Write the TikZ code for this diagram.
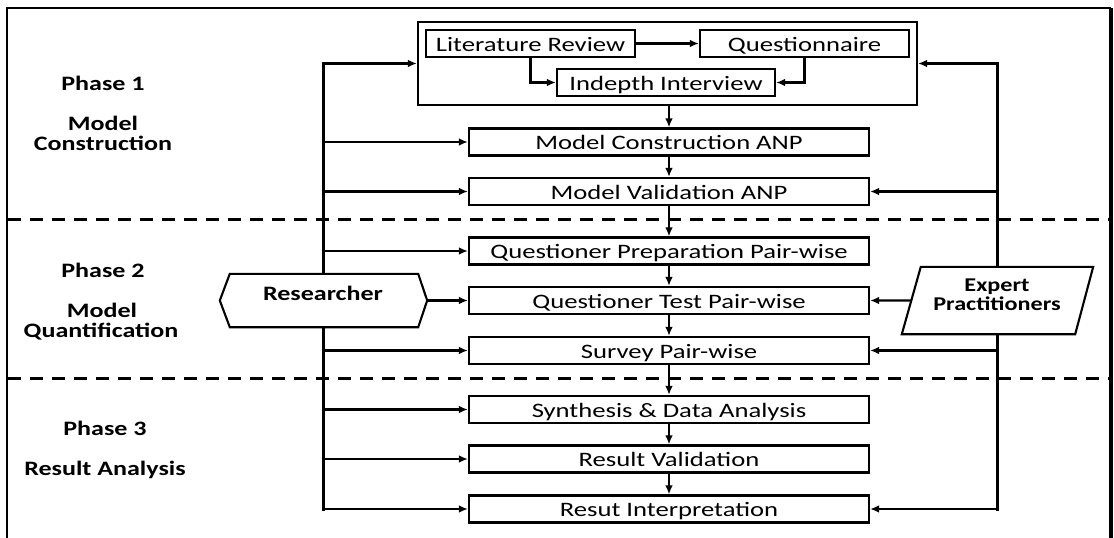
\documentclass[tikz,border=0pt]{standalone}
\usepackage{fontspec}
\setmainfont{Carlito}
\usepackage{graphicx}
\usetikzlibrary{arrows.meta,calc}
\newcommand{\sx}[1]{\scalebox{1.3}[1]{#1}}
\newcommand{\bx}[1]{\scalebox{1.27}[1]{\bfseries #1}}
\newcommand{\ex}[1]{\scalebox{1.24}[1]{\bfseries #1}}
\begin{document}
\begin{tikzpicture}[x=1pt,y=-1pt,
  every node/.style={inner sep=0pt},
  txt/.style={font=\fontsize{20.5}{20}\selectfont, text height=15.5pt, text depth=0pt},
  sbox/.style={txt, draw, line width=2.1pt, minimum height=27pt},
  pbox/.style={sbox, minimum width=400pt},
  lbl/.style={font=\fontsize{20.5}{20}\selectfont, anchor=base},
  elbl/.style={font=\fontsize{19.5}{18}\selectfont, anchor=base},
  arr/.style={line width=2.1pt, -{Latex[length=9pt,width=7.5pt]}},
  bus/.style={line width=3pt, line cap=rect},
  sep/.style={line width=3pt, dash pattern=on 13pt off 9pt},
  shapefill/.style={draw, fill=white, line width=2.1pt, line join=miter}
]
\useasboundingbox (0,0) rectangle (1114,538);
% frame
\draw[line width=2.6pt] (7,538) -- (7,8) -- (1111,8);
\draw[line width=4pt] (1111,8) -- (1111,538);
% phase separators
\draw[sep] (8,219) -- (1110,219);
\draw[sep] (8,378) -- (1110,378);

% top group
\node[draw, line width=2.1pt, minimum width=499pt, minimum height=83pt] (grp) at (667.5,63.5) {};
\node[sbox, minimum width=209pt] (lr) at (530.5,43.5) {\sx{Literature Review}};
\node[sbox, minimum width=209pt] (q) at (804.5,43.5) {\sx{Questionnaire}};
\node[sbox, minimum width=218pt] (ii) at (666,82.5) {\sx{Indepth Interview}};

% process boxes
\node[pbox] (mc) at (669,142) {\sx{Model Construction ANP}};
\node[pbox] (mv) at (669,191.5) {\sx{Model Validation ANP}};
\node[pbox] (qp) at (669,251) {\sx{Questioner Preparation Pair-wise}};
\node[pbox] (qt) at (669,300.5) {\sx{Questioner Test Pair-wise}};
\node[pbox] (sp) at (669,350.5) {\sx{Survey Pair-wise}};
\node[pbox] (sd) at (669,409.5) {\sx{Synthesis \& Data Analysis}};
\node[pbox] (rv) at (669,459) {\sx{Result Validation}};
\node[pbox] (ri) at (669,509) {\sx{Resut Interpretation}};

% actor holders
\node[minimum width=207pt, minimum height=53pt] (res) at (323.5,300.5) {};
\node[minimum width=191pt, minimum height=67pt] (ep) at (997.5,300.5) {};

% buses
\coordinate (lbT) at (323,63.5);
\coordinate (lbB) at (323,509);
\coordinate (rbT) at (997,63.5);
\coordinate (rbB) at (997,509);
\draw[bus] (lbT) -- (lbB);
\draw[bus] (rbT) -- (rbB);

% arrows inside group
\draw[arr] (lr.east) -- (q.west);
\draw[arr] (lr.south) |- (ii.west);
\draw[arr] (q.south) |- (ii.east);

% chain
\draw[arr] (grp.south -| mc.north) -- (mc.north);
\foreach \a/\b in {mc/mv,mv/qp,qp/qt,qt/sp,sp/sd,sd/rv,rv/ri}
  \draw[arr] (\a.south) -- (\b.north);

% left bus arrows
\draw[arr] (lbT) -- (lbT -| grp.west);
\foreach \n in {mc,mv,qp,sp,sd,rv}
  \draw[arr] (\n.west -| lbT) -- (\n.west);
\draw[arr] (lbB) -- (ri.west);

% right bus arrows
\draw[arr] (rbT) -- (rbT -| grp.east);
\foreach \n in {mv,sp}
  \draw[arr] (\n.east -| rbT) -- (\n.east);
\draw[arr] (rbB) -- (ri.east);

% actor shapes
\draw[shapefill] (res.west) -- ([xshift=10pt]res.north west) -- ([xshift=-9pt]res.north east)
  -- (res.east) -- ([xshift=-9pt]res.south east) -- ([xshift=10pt]res.south west) -- cycle;
\draw[shapefill] (ep.south west) -- ([xshift=19pt]ep.north west) -- (ep.north east)
  -- ([xshift=-18pt]ep.south east) -- cycle;
\draw[arr] (res.east) -- (qt.west);
\draw[arr] ($(ep.south west)!0.5!([xshift=19pt]ep.north west)$) -- (qt.east);

% labels
\node[lbl] (tres) at (323,300) {\bx{Researcher}};
\node[elbl] (texp1) at (997,291.7) {\ex{Expert}};
\node[elbl] (texp2) at (997,310) {\ex{Practitioners}};
\node[lbl] (p1) at (103,90.7) {\bx{Phase 1}};
\node[lbl] (p1a) at (103,130.7) {\bx{Model}};
\node[lbl] (p1b) at (103,150.7) {\bx{Construction}};
\node[lbl] (p2) at (103,277) {\bx{Phase 2}};
\node[lbl] (p2a) at (102,317) {\bx{Model}};
\node[lbl] (p2b) at (101,337) {\bx{Quantification}};
\node[lbl] (p3) at (105,435) {\bx{Phase 3}};
\node[lbl] (p3a) at (105,475) {\bx{Result Analysis}};
\end{tikzpicture}
\end{document}
